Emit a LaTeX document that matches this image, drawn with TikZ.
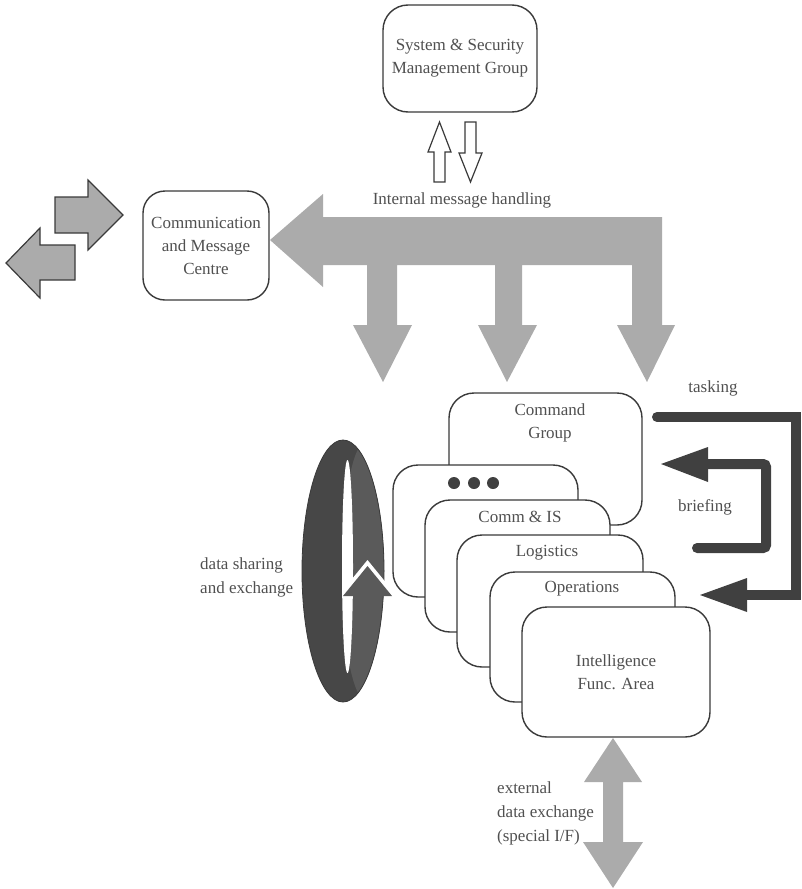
\documentclass[tikz,border=0pt]{standalone}
\usepackage{fontspec}
\setmainfont{Liberation Serif}
\definecolor{txt}{HTML}{505050}
\definecolor{edge}{HTML}{3A3A3A}
\definecolor{blockgray}{HTML}{ABABAB}
\definecolor{darkarrow}{HTML}{404040}
\definecolor{ringdark}{HTML}{474747}
\definecolor{ringface}{HTML}{5A5A5A}
\begin{document}
\begin{tikzpicture}[x=1pt,y=-1pt,
  lbl/.style={font=\fontsize{17}{23}\selectfont, text=txt, inner sep=0pt, align=center},
  lblleft/.style={font=\fontsize{17}{24}\selectfont, text=txt, inner sep=0pt, align=left},
  panel/.style={draw=edge, line width=1.4pt, fill=white, rounded corners=25pt, rectangle, inner sep=0pt},
  blockarrow/.style={fill=blockgray, draw=none},
  blockarrowedged/.style={fill=blockgray, draw=edge, line width=1.2pt, line join=miter},
  hollowarrow/.style={fill=white, draw=edge, line width=1.2pt, line join=miter},
  darkbar/.style={draw=darkarrow, line width=10pt},
  darkhead/.style={fill=darkarrow, draw=none}
]
\useasboundingbox (0,0) rectangle (802,889);

% ---- management group at the top ----
\node[panel, lbl, minimum width=154, minimum height=107] (ssm) at (460,58.5)
  {System \& Security\\Management Group};

% hollow up/down arrows under it
\draw[hollowarrow] (439.5,122) -- (451,152) -- (445,152) -- (445,182) -- (434,182) -- (434,152) -- (428,152) -- cycle;
\draw[hollowarrow] (465,122) -- (476,122) -- (476,153) -- (482,153) -- (470.5,182) -- (459,153) -- (465,153) -- cycle;

% ---- communication and message centre ----
\node[panel, lbl, rounded corners=22pt, minimum width=126, minimum height=109] (cmc) at (206,245.5)
  {Communication\\and Message\\Centre};

% external traffic arrows on the far left
\draw[blockarrowedged] (55,197) -- (88,197) -- (88,180) -- (123,215) -- (88,250) -- (88,233) -- (55,233) -- cycle;
\draw[blockarrowedged] (75,245) -- (40,245) -- (40,228) -- (6,263) -- (40,298) -- (40,280) -- (75,280) -- cycle;

% ---- internal message handling bus ----
\fill[blockarrow]
  (270,240) -- (323,194) -- (323,217) -- (662,217) -- (662,325) -- (675,325) -- (647,382)
  -- (617,325) -- (632,325) -- (632,265) -- (522,265) -- (522,325) -- (537,325) -- (507,382)
  -- (478,325) -- (495,325) -- (495,265) -- (397,265) -- (397,325) -- (412,325) -- (383,382)
  -- (353,325) -- (367,325) -- (367,265) -- (323,265) -- (323,287) -- cycle;
\node[lbl] (imh) at (462,200) {Internal message handling};

% ---- stack of functional areas ----
\node[panel, minimum width=193, minimum height=132] (cmdbox) at (545.5,459) {};
\node[lbl] (cmd) at (550,422.5) {Command\\Group};

\node[panel, minimum width=185, minimum height=132] (morebox) at (485.5,531) {};
\foreach \i/\dx in {1/454,2/474,3/493}
  \fill[darkarrow] (\dx,483) circle[radius=6] coordinate (dot\i);

\node[panel, minimum width=185, minimum height=132] (commbox) at (517.5,566) {};
\node[lbl] (comm) at (520,517) {Comm \& IS};

\node[panel, minimum width=186, minimum height=132] (logbox) at (550,601) {};
\node[lbl] (log) at (547,553) {Logistics};

\node[panel, minimum width=185, minimum height=130] (opsbox) at (582.5,637) {};
\node[lbl] (ops) at (582,589) {Operations};

\node[panel, lbl, minimum width=188, minimum height=130] (intel) at (616,672)
  {Intelligence\\Func. Area};

% ---- tasking and briefing loops ----
\coordinate (taskstart) at (657,417);
\coordinate (taskend) at (747,595);
\draw[darkbar, line cap=round, line join=miter] (taskstart) -- (796,417) -- (796,595) -- (taskend);
\fill[darkhead] (747,578) -- (700,595) -- (747,612) -- cycle;
\node[lbl] (tasking) at (713,388) {tasking};

\coordinate (briefstart) at (697,548);
\coordinate (briefend) at (708,464);
\draw[darkbar, line cap=round, rounded corners=3pt] (briefstart) -- (766,548) -- (766,464) -- (briefend);
\fill[darkhead] (708,447) -- (661,464) -- (708,482) -- cycle;
\node[lbl] (briefing) at (705,507) {briefing};

% ---- data sharing ring ----
\fill[ringdark] (343,571) ellipse[x radius=41, y radius=131];
\begin{scope}
  \clip (343,571) ellipse[x radius=41, y radius=131];
  \fill[ringface] (366,571) ellipse[x radius=24, y radius=129];
\end{scope}
\draw[edge, line width=0.8pt] (343,571) ellipse[x radius=41, y radius=131];
\fill[white] (347.5,566.5) ellipse[x radius=5.5, y radius=106.5];
\fill[white] (343,590) -- (367.5,560) -- (392,590) -- cycle;
\fill[ringface] (343,596) -- (367.5,566) -- (392,596) -- cycle;
\node[lblleft, font=\fontsize{17}{24}\selectfont, anchor=west] (dse) at (200,577) {data sharing\\and exchange};

% ---- external data exchange ----
\fill[blockarrow] (613,738) -- (642,782) -- (623,782) -- (623,842) -- (643,842) -- (613,888)
  -- (583,842) -- (603,842) -- (603,782) -- (584,782) -- cycle;
\node[lblleft, anchor=west] (ext) at (497,813) {external\\data exchange\\(special I/F)};
\end{tikzpicture}
\end{document}
